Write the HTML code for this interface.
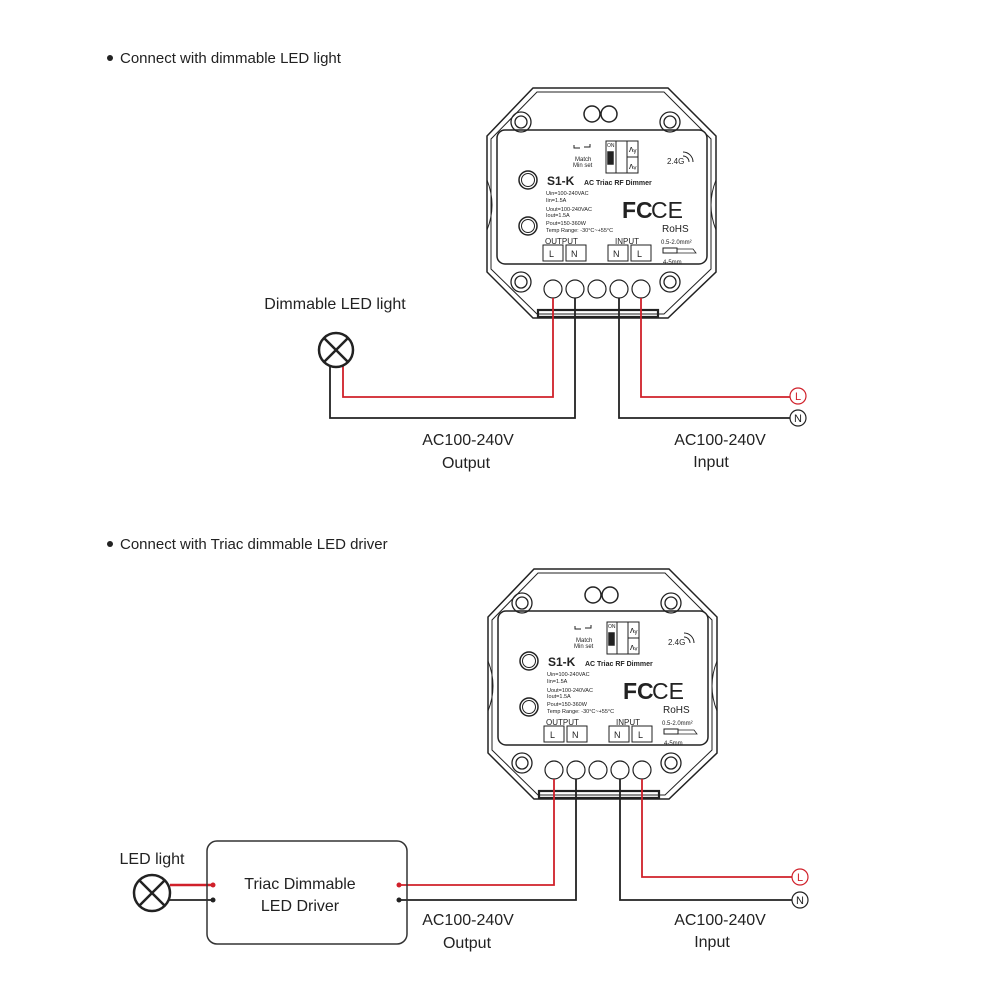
<!DOCTYPE html>
<html><head><meta charset="utf-8"><style>
html,body{margin:0;padding:0;background:#fff}
svg{display:block}
text{font-family:"Liberation Sans",sans-serif}
</style></head><body>
<svg width="1000" height="1000" viewBox="0 0 1000 1000" xmlns="http://www.w3.org/2000/svg">
<g font-size="15" fill="#222">
<circle cx="110" cy="58" r="3"/>
<text x="120" y="63">Connect with dimmable LED light</text>
<circle cx="110" cy="544" r="3"/>
<text x="120" y="549">Connect with Triac dimmable LED driver</text>
</g>

<!-- DEVICE 1 -->
<g stroke="#222" fill="none" stroke-width="1.5">
  <path d="M533 88 L668 88 L716 136 L716 272 L668 318 L533 318 L487 272 L487 136 Z" fill="#fff"/>
  <path d="M537 92 L664 92 L711 139 L711 269 L664 314 L537 314 L491 269 L491 139 Z" stroke-width="1"/>
  <rect x="497" y="130" width="210" height="134" rx="8" fill="#fff"/>
  <path d="M487 180 Q497 205 487 230 M716 180 Q706 205 716 230" stroke-width="1"/>
  <circle cx="592" cy="114" r="8"/><circle cx="609" cy="114" r="8"/>
  <g stroke-width="1.3">
   <circle cx="521" cy="122" r="10"/><circle cx="521" cy="122" r="6"/>
   <circle cx="670" cy="122" r="10"/><circle cx="670" cy="122" r="6"/>
   <circle cx="521" cy="282" r="10"/><circle cx="521" cy="282" r="6"/>
   <circle cx="670" cy="282" r="10"/><circle cx="670" cy="282" r="6"/>
  </g>
  <g stroke-width="1.2">
   <circle cx="553" cy="289" r="9"/><circle cx="575" cy="289" r="9"/><circle cx="597" cy="289" r="9"/><circle cx="619" cy="289" r="9"/><circle cx="641" cy="289" r="9"/>
  </g>
  <rect x="538" y="310" width="120" height="7" stroke-width="2.2"/>
  <circle cx="528" cy="180" r="9"/><circle cx="528" cy="180" r="6.5" stroke-width="1"/>
  <circle cx="528" cy="226" r="9"/><circle cx="528" cy="226" r="6.5" stroke-width="1"/>
  <rect x="616" y="141" width="22" height="32" stroke-width="1"/>
  <line x1="627" y1="141" x2="627" y2="173" stroke-width="1"/>
  <line x1="627" y1="157" x2="638" y2="157" stroke-width="1"/>
  <rect x="606" y="141" width="10" height="32" stroke-width="1"/>
  <rect x="608" y="152" width="5" height="12" fill="#222"/>
  <path d="M574 145 v3 h6 M584 147 h6 v-3" stroke-width="1"/>
  <rect x="543" y="245" width="20" height="16" stroke-width="1"/><rect x="566" y="245" width="20" height="16" stroke-width="1"/>
  <rect x="608" y="245" width="20" height="16" stroke-width="1"/><rect x="631" y="245" width="20" height="16" stroke-width="1"/>
  <rect x="663" y="248" width="14" height="5" stroke-width="1"/>
  <path d="M677 249 h16 l3 4 h-19" stroke-width="0.8"/>
  <path d="M683 156 a6 6 0 0 1 6 6 M683 152 a10 10 0 0 1 10 10" stroke-width="1"/>
  <g fill="#222" stroke="none" font-size="6">
   <text x="575" y="161">Match</text><text x="573" y="167">Min set</text>
   <text x="607" y="147" font-size="5">ON</text>
   <text x="629" y="152" font-size="9">ʌᵧ</text><text x="629" y="169" font-size="9">ʌᵥ</text>
   <text x="667" y="164" font-size="8">2.4G</text>
   <text x="547" y="185" font-size="12" font-weight="bold">S1-K</text>
   <text x="584" y="185" font-size="7" font-weight="bold">AC Triac RF Dimmer</text>
   <text x="546" y="195" font-size="5.5">Uin=100-240VAC</text>
   <text x="546" y="202" font-size="5.5">Iin=1.5A</text>
   <text x="546" y="211" font-size="5.5">Uout=100-240VAC</text>
   <text x="546" y="217" font-size="5.5">Iout=1.5A</text>
   <text x="546" y="225" font-size="5.5">Pout=150-360W</text>
   <text x="546" y="232" font-size="5.5">Temp Range: -30°C~+55°C</text>
   <text x="622" y="218" font-size="23" font-weight="bold">FC</text>
   <text x="651" y="218" font-size="23">CE</text>
   <text x="662" y="232" font-size="10">RoHS</text>
   <text x="661" y="244" font-size="6">0.5-2.0mm²</text>
   <text x="663" y="264" font-size="6">4-5mm</text>
   <text x="545" y="244" font-size="8">OUTPUT</text>
   <text x="615" y="244" font-size="8">INPUT</text>
   <text x="549" y="257" font-size="9">L</text><text x="571" y="257" font-size="9">N</text>
   <text x="613" y="257" font-size="9">N</text><text x="637" y="257" font-size="9">L</text>
  </g>
</g>
<!-- DEVICE 2 -->
<g transform="translate(1,481)" stroke="#222" fill="none" stroke-width="1.5">
  <path d="M533 88 L668 88 L716 136 L716 272 L668 318 L533 318 L487 272 L487 136 Z" fill="#fff"/>
  <path d="M537 92 L664 92 L711 139 L711 269 L664 314 L537 314 L491 269 L491 139 Z" stroke-width="1"/>
  <rect x="497" y="130" width="210" height="134" rx="8" fill="#fff"/>
  <path d="M487 180 Q497 205 487 230 M716 180 Q706 205 716 230" stroke-width="1"/>
  <circle cx="592" cy="114" r="8"/><circle cx="609" cy="114" r="8"/>
  <g stroke-width="1.3">
   <circle cx="521" cy="122" r="10"/><circle cx="521" cy="122" r="6"/>
   <circle cx="670" cy="122" r="10"/><circle cx="670" cy="122" r="6"/>
   <circle cx="521" cy="282" r="10"/><circle cx="521" cy="282" r="6"/>
   <circle cx="670" cy="282" r="10"/><circle cx="670" cy="282" r="6"/>
  </g>
  <g stroke-width="1.2">
   <circle cx="553" cy="289" r="9"/><circle cx="575" cy="289" r="9"/><circle cx="597" cy="289" r="9"/><circle cx="619" cy="289" r="9"/><circle cx="641" cy="289" r="9"/>
  </g>
  <rect x="538" y="310" width="120" height="7" stroke-width="2.2"/>
  <circle cx="528" cy="180" r="9"/><circle cx="528" cy="180" r="6.5" stroke-width="1"/>
  <circle cx="528" cy="226" r="9"/><circle cx="528" cy="226" r="6.5" stroke-width="1"/>
  <rect x="616" y="141" width="22" height="32" stroke-width="1"/>
  <line x1="627" y1="141" x2="627" y2="173" stroke-width="1"/>
  <line x1="627" y1="157" x2="638" y2="157" stroke-width="1"/>
  <rect x="606" y="141" width="10" height="32" stroke-width="1"/>
  <rect x="608" y="152" width="5" height="12" fill="#222"/>
  <path d="M574 145 v3 h6 M584 147 h6 v-3" stroke-width="1"/>
  <rect x="543" y="245" width="20" height="16" stroke-width="1"/><rect x="566" y="245" width="20" height="16" stroke-width="1"/>
  <rect x="608" y="245" width="20" height="16" stroke-width="1"/><rect x="631" y="245" width="20" height="16" stroke-width="1"/>
  <rect x="663" y="248" width="14" height="5" stroke-width="1"/>
  <path d="M677 249 h16 l3 4 h-19" stroke-width="0.8"/>
  <path d="M683 156 a6 6 0 0 1 6 6 M683 152 a10 10 0 0 1 10 10" stroke-width="1"/>
  <g fill="#222" stroke="none" font-size="6">
   <text x="575" y="161">Match</text><text x="573" y="167">Min set</text>
   <text x="607" y="147" font-size="5">ON</text>
   <text x="629" y="152" font-size="9">ʌᵧ</text><text x="629" y="169" font-size="9">ʌᵥ</text>
   <text x="667" y="164" font-size="8">2.4G</text>
   <text x="547" y="185" font-size="12" font-weight="bold">S1-K</text>
   <text x="584" y="185" font-size="7" font-weight="bold">AC Triac RF Dimmer</text>
   <text x="546" y="195" font-size="5.5">Uin=100-240VAC</text>
   <text x="546" y="202" font-size="5.5">Iin=1.5A</text>
   <text x="546" y="211" font-size="5.5">Uout=100-240VAC</text>
   <text x="546" y="217" font-size="5.5">Iout=1.5A</text>
   <text x="546" y="225" font-size="5.5">Pout=150-360W</text>
   <text x="546" y="232" font-size="5.5">Temp Range: -30°C~+55°C</text>
   <text x="622" y="218" font-size="23" font-weight="bold">FC</text>
   <text x="651" y="218" font-size="23">CE</text>
   <text x="662" y="232" font-size="10">RoHS</text>
   <text x="661" y="244" font-size="6">0.5-2.0mm²</text>
   <text x="663" y="264" font-size="6">4-5mm</text>
   <text x="545" y="244" font-size="8">OUTPUT</text>
   <text x="615" y="244" font-size="8">INPUT</text>
   <text x="549" y="257" font-size="9">L</text><text x="571" y="257" font-size="9">N</text>
   <text x="613" y="257" font-size="9">N</text><text x="637" y="257" font-size="9">L</text>
  </g>
</g>

<!-- Wires top -->
<g fill="none" stroke-width="1.8">
  <path d="M553 298 V397 H343 V365" stroke="#d0202a"/>
  <path d="M575 298 V418 H330 V365" stroke="#222"/>
  <path d="M619 298 V418 H790" stroke="#222"/>
  <path d="M641 298 V397 H790" stroke="#d0202a"/>
</g>
<circle cx="336" cy="350" r="17" fill="#fff" stroke="#222" stroke-width="2.5"/>
<path d="M324 338 L348 362 M348 338 L324 362" stroke="#222" stroke-width="2.5"/>
<circle cx="798" cy="396" r="8" fill="#fff" stroke="#d0202a" stroke-width="1.2"/>
<text x="798" y="400" font-size="11" fill="#d0202a" text-anchor="middle">L</text>
<circle cx="798" cy="418" r="8" fill="#fff" stroke="#222" stroke-width="1.2"/>
<text x="798" y="422" font-size="11" fill="#222" text-anchor="middle">N</text>

<g font-size="16" fill="#222" text-anchor="middle">
<text x="335" y="309">Dimmable LED light</text>
<text x="468" y="445">AC100-240V</text>
<text x="466" y="468">Output</text>
<text x="720" y="445">AC100-240V</text>
<text x="711" y="467">Input</text>
</g>

<!-- Bottom wiring -->
<g fill="none" stroke-width="1.8">
  <path d="M554 779 V885 H400" stroke="#d0202a"/>
  <path d="M576 779 V900 H400" stroke="#222"/>
  <path d="M620 779 V900 H793" stroke="#222"/>
  <path d="M642 779 V877 H793" stroke="#d0202a"/>
  <path d="M170 885 H213" stroke="#d0202a" stroke-width="2.5"/>
  <path d="M168 900 H213" stroke="#222"/>
</g>
<rect x="207" y="841" width="200" height="103" rx="10" fill="none" stroke="#333" stroke-width="1.5"/>
<circle cx="213" cy="885" r="2.5" fill="#d0202a"/><circle cx="213" cy="900" r="2.5" fill="#222"/>
<circle cx="399" cy="885" r="2.5" fill="#d0202a"/><circle cx="399" cy="900" r="2.5" fill="#222"/>
<circle cx="152" cy="893" r="18" fill="#fff" stroke="#222" stroke-width="2.5"/>
<path d="M139 880 L165 906 M165 880 L139 906" stroke="#222" stroke-width="2.5"/>
<circle cx="800" cy="877" r="8" fill="#fff" stroke="#d0202a" stroke-width="1.2"/>
<text x="800" y="881" font-size="11" fill="#d0202a" text-anchor="middle">L</text>
<circle cx="800" cy="900" r="8" fill="#fff" stroke="#222" stroke-width="1.2"/>
<text x="800" y="904" font-size="11" fill="#222" text-anchor="middle">N</text>
<g font-size="16" fill="#222" text-anchor="middle">
<text x="152" y="864">LED light</text>
<text x="300" y="889">Triac Dimmable</text>
<text x="300" y="911">LED Driver</text>
<text x="468" y="925">AC100-240V</text>
<text x="467" y="948">Output</text>
<text x="720" y="925">AC100-240V</text>
<text x="712" y="947">Input</text>
</g>
</svg>
</body></html>
